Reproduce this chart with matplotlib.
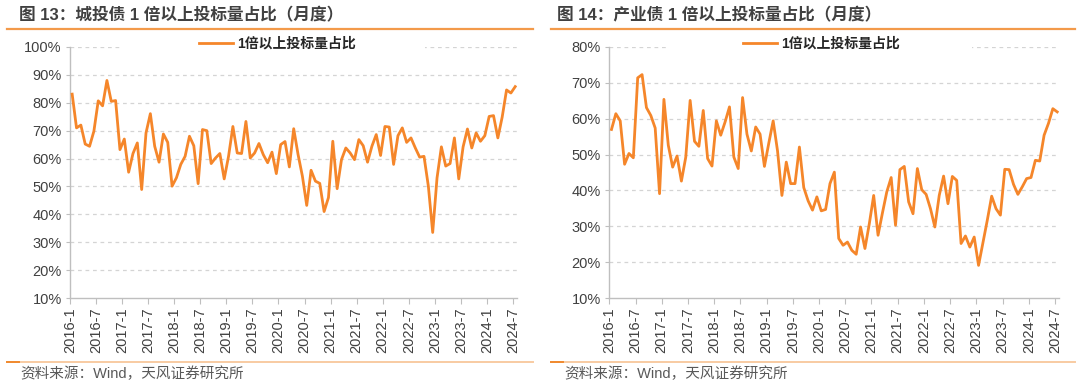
import matplotlib
matplotlib.use("Agg")
import matplotlib.pyplot as plt
from matplotlib.patches import Rectangle
from matplotlib.lines import Line2D
import numpy as np

plt.rcParams['font.family'] = ['Liberation Sans', 'Noto Sans CJK SC', 'DejaVu Sans']

# ---------------- data ----------------
years = list(range(2016, 2025))
months = [f"{y}-{m}" for y in years for m in range(1, 13)][:103]   # 2016-1 .. 2024-7
tick_labels = [f"{y}-{m}" for y in years for m in (1, 7)][:18]

chengtou = [83.1, 71.0, 72.0, 65.2, 64.4, 69.8, 80.7, 78.9, 88.0, 80.5,
            80.8, 63.2, 67.0, 55.1, 61.8, 65.6, 48.9, 69.2, 76.1, 64.4,
            58.7, 68.8, 65.8, 50.1, 53.1, 57.9, 60.8, 68.0, 64.6, 51.0,
            70.4, 70.0, 58.2, 60.2, 61.8, 52.7, 60.8, 71.5, 62.0, 61.8,
            73.3, 60.2, 62.0, 65.4, 61.4, 58.5, 62.3, 54.6, 65.0, 66.1,
            57.0, 70.7, 61.5, 53.7, 43.2, 55.8, 51.9, 51.1, 41.0, 46.0,
            66.2, 49.2, 59.6, 63.8, 62.0, 59.6, 66.8, 64.6, 58.7, 64.4,
            68.6, 61.1, 71.5, 71.3, 57.9, 68.2, 71.0, 65.8, 67.4, 63.8,
            60.5, 60.8, 50.1, 33.5, 53.1, 64.2, 57.3, 58.2, 67.4, 52.7,
            64.2, 70.6, 63.8, 69.2, 66.2, 68.2, 75.1, 75.4, 67.4, 74.9,
            84.6, 83.5, 85.8]

chanye = [57.0, 61.4, 59.4, 47.3, 50.3, 49.1, 71.4, 72.3, 63.1, 60.9,
          57.4, 39.1, 65.4, 52.6, 46.5, 49.6, 42.6, 49.3, 65.1, 53.7,
          52.3, 62.3, 48.9, 46.8, 59.4, 55.4, 59.1, 63.3, 49.3, 46.1,
          65.9, 55.7, 51.0, 57.7, 55.7, 46.7, 53.2, 59.4, 51.0, 38.6,
          47.9, 41.9, 41.9, 52.1, 40.8, 37.1, 34.5, 38.2, 34.3, 34.7,
          41.9, 45.1, 26.6, 24.7, 25.6, 23.3, 22.2, 29.8, 23.8, 30.7,
          38.6, 27.5, 33.7, 39.6, 43.6, 30.3, 45.8, 46.7, 36.8, 33.5,
          46.1, 40.2, 38.9, 34.9, 29.8, 38.6, 44.0, 36.3, 43.9, 42.8,
          25.2, 27.3, 24.2, 27.0, 19.1, 25.4, 31.7, 38.4, 34.9, 33.1,
          45.9, 45.8, 41.7, 38.9, 41.0, 43.3, 43.6, 48.4, 48.2, 55.4,
          58.7, 62.8, 61.9]

titles = ["图 13：城投债 1 倍以上投标量占比（月度）",
          "图 14：产业债 1 倍以上投标量占比（月度）"]
legend_label = "1倍以上投标量占比"
source = "资料来源：Wind，天风证券研究所"
y_ranges = [(10, 100), (10, 80)]

ORANGE = '#F5862A'
GRID = '#D4D4D4'
SPINE = '#BFBFBF'
TXT = '#404040'

W, H = 1080, 386
fig = plt.figure(figsize=(W / 100, H / 100), dpi=100)

def fx(px):
    return px / W

def fy(py):
    return 1 - py / H

axes_px = [(70, 517.4), (609.3, 1059.4)]
top_px, bot_px = 47, 298
panel_px = [(7, 533), (551, 1075)]
title_x = [19, 557]
source_x = [20, 564]
legend_cx = [0.464, 0.471]
white_rect = [(0.118, 0.794), (0.13, 0.805)]
series = [chengtou, chanye]

for k in range(2):
    l, r = axes_px[k]
    ax = fig.add_axes([fx(l), fy(bot_px), fx(r - l), (bot_px - top_px) / H])
    x = np.arange(len(months))
    y0, y1 = y_ranges[k]
    ax.set_ylim(y0, y1)
    ax.set_xlim(-0.5, len(months) - 0.5)
    yt = np.arange(y0, y1 + 1, 10)
    for v in yt[1:]:
        ax.axhline(v, color=GRID, lw=0.9, ls=(0, (3, 3)), zorder=0.5)
    ax.add_patch(Rectangle((white_rect[k][0], 0.97), white_rect[k][1] - white_rect[k][0], 0.06,
                           transform=ax.transAxes, facecolor='white', edgecolor='none',
                           zorder=1, clip_on=False))
    ax.plot(x, series[k], color=ORANGE, lw=2.0, zorder=3, solid_joinstyle='round',
            label=legend_label)
    ax.set_yticks(yt)
    ax.set_yticklabels([f"{v}%" for v in yt])
    xt = np.arange(0, len(months), 6) - 0.5
    ax.set_xticks(xt)
    ax.set_xticklabels(tick_labels, rotation=90)
    for s in ('top', 'right'):
        ax.spines[s].set_visible(False)
    for s in ('left', 'bottom'):
        ax.spines[s].set_color(SPINE)
        ax.spines[s].set_linewidth(1.0)
    ax.tick_params(axis='y', length=3, color=SPINE, labelsize=10.5, labelcolor=TXT, pad=3)
    ax.tick_params(axis='x', length=4, color=SPINE, labelsize=10.5, labelcolor=TXT, pad=3)
    leg = ax.legend(loc='center', bbox_to_anchor=(legend_cx[k], 1.012), frameon=False,
                    handlelength=2.4, handletextpad=0.3, borderpad=0, fontsize=10)
    for t in leg.get_texts():
        t.set_fontweight('bold')
        t.set_color('#262626')
    leg.set_zorder(5)

    # title and decorative lines
    fig.text(fx(title_x[k]), fy(15), titles[k], fontsize=12, fontweight='bold',
             color=TXT, ha='left', va='center')
    pl, pr = panel_px[k]
    fig.add_artist(Line2D([fx(pl), fx(pr)], [fy(29), fy(29)], color='#F39A4A', lw=1.6))
    fig.add_artist(Line2D([fx(pl), fx(pr)], [fy(362), fy(362)], color='#F8CBA2', lw=1.4))
    fig.add_artist(Line2D([fx(pl), fx(pl + 12)], [fy(362), fy(362)], color='#F08A2E', lw=1.4))
    fig.text(fx(source_x[k]), fy(374), source, fontsize=10.5, color='#595959',
             ha='left', va='center')

fig.savefig('out.png', dpi=100)
